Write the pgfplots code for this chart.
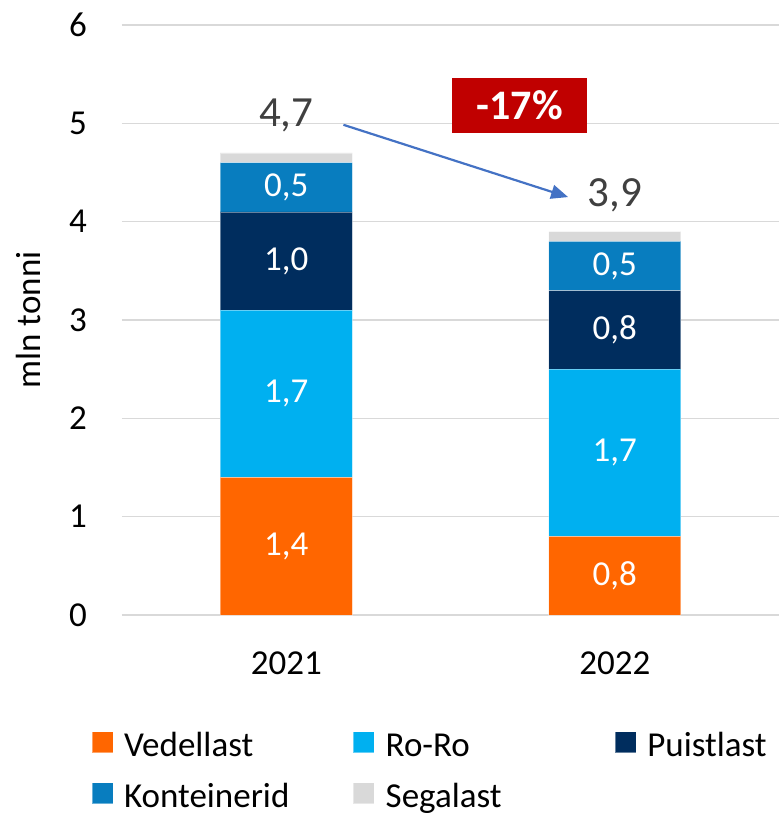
\documentclass[border=0pt]{standalone}
\usepackage{fontspec}
\setmainfont{Carlito}
\usepackage{pgfplots}
\pgfplotsset{compat=1.18}
\usetikzlibrary{arrows.meta}
\definecolor{cVed}{HTML}{FF6600}
\definecolor{cRoRo}{HTML}{00B0F0}
\definecolor{cPuist}{HTML}{002D5E}
\definecolor{cKont}{HTML}{087DBF}
\definecolor{cSeg}{HTML}{D9D9D9}
\definecolor{gridgray}{HTML}{D9D9D9}
\definecolor{totgray}{HTML}{404040}
\definecolor{arrowblue}{HTML}{4472C4}
\definecolor{boxred}{HTML}{C00000}
\newcommand\fsz{\fontsize{35}{42}\selectfont}
\newcommand\legtxt[1]{\makebox[229pt][l]{\rule[-7pt]{0pt}{36.5pt}#1}}
\newcommand\legtxtlast[1]{\rule[-7pt]{0pt}{36.5pt}#1}
\tikzset{seglab/.style={font=\fsz, text=white, inner sep=0pt}}
\begin{document}
\begin{tikzpicture}[x=1pt,y=1pt]
\useasboundingbox (0,0) rectangle (779,815);
\begin{axis}[
  at={(122pt,200pt)}, anchor=south west,
  scale only axis, width=657pt, height=590pt,
  xmin=-0.5, xmax=1.5, ymin=0, ymax=6,
  xtick={0,1}, xticklabels={2021,2022},
  ytick={0,1,2,3,4,5,6},
  ymajorgrids, major grid style={color=gridgray, line width=1.3pt},
  axis line style={draw=none}, major tick length=0pt,
  ybar stacked, bar width=132pt,
  ticklabel style={font=\fsz, /pgf/number format/assume math mode=true},
  yticklabel style={inner sep=0pt, anchor=east, xshift=-35pt},
  xticklabel style={inner sep=0pt, anchor=north, yshift=-37pt},
  ylabel={mln tonni},
  ylabel style={font=\fsz, at={(axis description cs:-0.143,0.5)}, anchor=center},
  legend columns=3,
  legend style={at={(axis description cs:-0.0464,-0.189)}, anchor=north west,
    draw=none, fill=none, inner sep=0pt, outer sep=0pt,
    nodes={inner sep=0pt, font=\fsz},
    /tikz/every odd column/.append style={column sep=11pt},
    /tikz/every even column/.append style={column sep=0pt},
    row sep=20pt},
  legend image code/.code={\fill[#1] (0pt,-10.5pt) rectangle (21pt,10.5pt);},
]
\addplot[fill=cVed, draw=white, draw opacity=0.4, line width=0.6pt] coordinates {(0,1.4) (1,0.8)};
\addlegendentry{\legtxt{Vedellast}}
\addplot[fill=cRoRo, draw=white, draw opacity=0.4, line width=0.6pt] coordinates {(0,1.7) (1,1.7)};
\addlegendentry{\legtxt{Ro-Ro}}
\addplot[fill=cPuist, draw=white, draw opacity=0.4, line width=0.6pt] coordinates {(0,1.0) (1,0.8)};
\addlegendentry{\legtxtlast{Puistlast}}
\addplot[fill=cKont, draw=white, draw opacity=0.4, line width=0.6pt] coordinates {(0,0.5) (1,0.5)};
\addlegendentry{\legtxt{Konteinerid}}
\addplot[fill=cSeg, draw=white, draw opacity=0.4, line width=0.6pt] coordinates {(0,0.1) (1,0.1)};
\addlegendentry{\legtxt{Segalast}}
\coordinate (a1) at (axis cs:0,0.7);
\coordinate (a2) at (axis cs:0,2.25);
\coordinate (a3) at (axis cs:0,3.6);
\coordinate (a4) at (axis cs:0,4.35);
\coordinate (b1) at (axis cs:1,0.4);
\coordinate (b2) at (axis cs:1,1.65);
\coordinate (b3) at (axis cs:1,2.9);
\coordinate (b4) at (axis cs:1,3.55);
\coordinate (t1) at (axis cs:0,5.08);
\coordinate (t2) at (axis cs:1,4.27);
\coordinate (ar1) at (axis cs:0.174,4.985);
\coordinate (ar2) at (axis cs:0.858,4.25);
\coordinate (bx) at (axis cs:0.711,5.18);
\end{axis}
\node[seglab] at (a1) {1,4};
\node[seglab] at (a2) {1,7};
\node[seglab] at (a3) {1,0};
\node[seglab] at (a4) {0,5};
\node[seglab] at (b1) {0,8};
\node[seglab] at (b2) {1,7};
\node[seglab] at (b3) {0,8};
\node[seglab] at (b4) {0,5};
\node[font=\fontsize{43}{50}\selectfont, text=totgray, inner sep=0pt] at (t1) {4,7};
\node[font=\fontsize{43}{50}\selectfont, text=totgray, inner sep=0pt] at (t2) {3,9};
\draw[arrowblue, line width=2.2pt, -{Triangle[length=17pt,width=14pt]}] (ar1) -- (ar2);
\node[fill=boxred, text=white, font=\fontsize{42}{50}\selectfont\bfseries, minimum width=135pt, minimum height=55pt, inner sep=0pt] at (bx) {-17\%};
\end{tikzpicture}
\end{document}
